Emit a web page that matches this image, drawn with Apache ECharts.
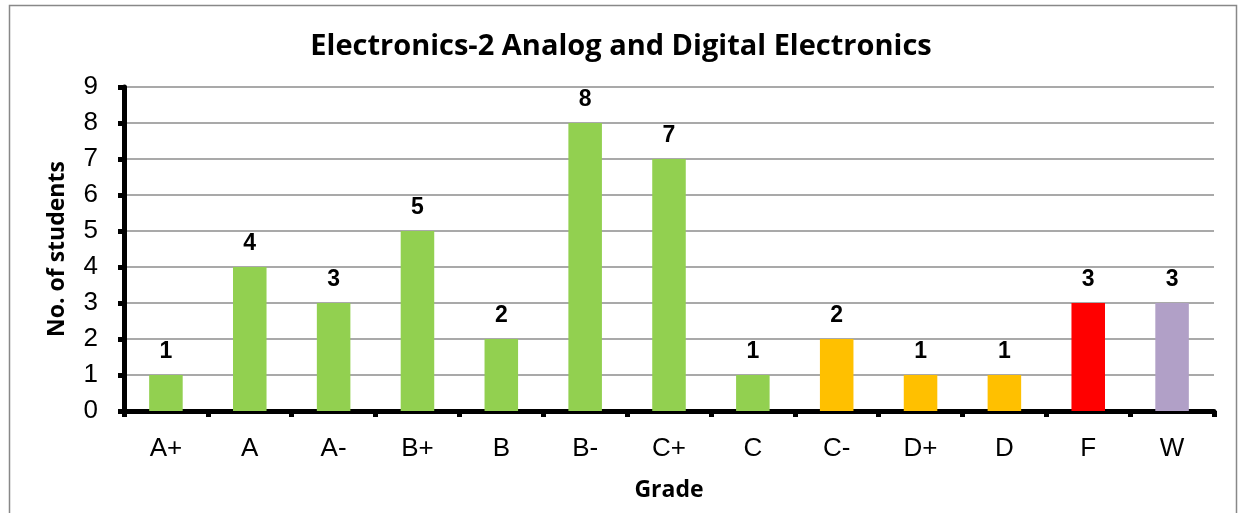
<!DOCTYPE html>
<html>
<head>
<meta charset="utf-8">
<script src="https://cdn.jsdelivr.net/npm/echarts@6/dist/echarts.min.js"></script>
<style>
html,body{margin:0;padding:0;background:#fff;}
#chart{width:1242px;height:513px;}
</style>
</head>
<body>
<div id="chart"></div>
<script>
var grades = ['A+', 'A', 'A-', 'B+', 'B', 'B-', 'C+', 'C', 'C-', 'D+', 'D', 'F', 'W'];
var students = [1, 4, 3, 5, 2, 8, 7, 1, 2, 1, 1, 3, 3];
var barColors = ['#92D050', '#92D050', '#92D050', '#92D050', '#92D050', '#92D050', '#92D050', '#92D050',
    '#FFC000', '#FFC000', '#FFC000', '#FF0000', '#B1A0C7'];

var myChart = echarts.init(document.getElementById('chart'));

var barData = [];
for (var i = 0; i < students.length; i++) {
    barData.push({value: students[i], itemStyle: {color: barColors[i]}});
}

myChart.setOption({
    animation: false,
    title: {
        text: 'Electronics-2 Analog and Digital Electronics',
        left: 'center',
        top: 27,
        textStyle: {fontFamily: 'Open Sans', fontWeight: 'bold', fontSize: 29, color: '#000'}
    },
    graphic: [{
        type: 'rect',
        shape: {x: 9.5, y: 5.5, width: 1227, height: 520},
        style: {fill: 'none', stroke: '#888', lineWidth: 1.5},
        silent: true
    }],
    grid: {left: 124, right: 28, top: 87, bottom: 102},
    xAxis: {
        type: 'category',
        data: grades,
        name: 'Grade',
        nameLocation: 'middle',
        nameGap: 68,
        nameTextStyle: {fontFamily: 'Open Sans', fontWeight: 'bold', fontSize: 23, color: '#000'},
        axisLine: {lineStyle: {color: '#000', width: 5}},
        axisTick: {show: true, length: 6, lineStyle: {color: '#000', width: 5}},
        axisLabel: {fontFamily: 'Liberation Sans', fontSize: 26, color: '#000', margin: 25}
    },
    yAxis: {
        type: 'value',
        min: 0,
        max: 9,
        interval: 1,
        name: 'No. of students',
        nameLocation: 'middle',
        nameGap: 55,
        nameTextStyle: {fontFamily: 'Open Sans', fontWeight: 'bold', fontSize: 23, color: '#000'},
        axisLine: {show: true, lineStyle: {color: '#000', width: 5}},
        axisTick: {show: true, length: 6, lineStyle: {color: '#000', width: 5}},
        axisLabel: {fontFamily: 'Liberation Sans', fontSize: 26, color: '#000', margin: 26},
        splitLine: {lineStyle: {color: '#8c8c8c', width: 1.5}}
    },
    series: [{
        type: 'bar',
        data: barData,
        barWidth: '40%',
        label: {
            show: true,
            position: 'top',
            distance: 12,
            fontFamily: 'Liberation Sans',
            fontWeight: 'bold',
            fontSize: 23,
            color: '#000'
        }
    }]
});

window.addEventListener('resize', function () {
    myChart.resize();
});
</script>
</body>
</html>
